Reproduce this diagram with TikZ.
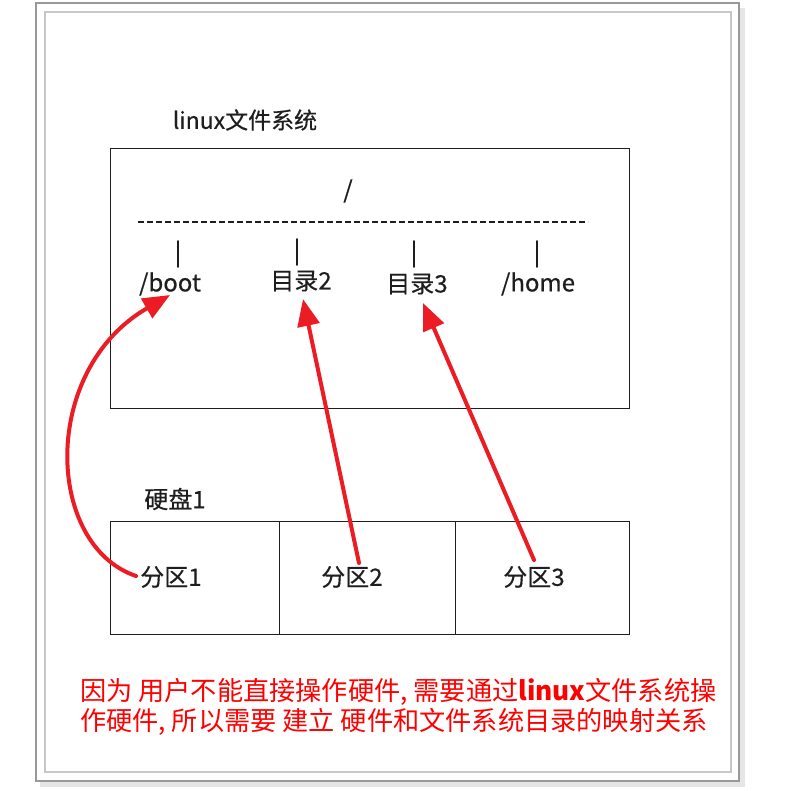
\documentclass[tikz,border=0pt]{standalone}
\usepackage{fontspec}
\setmainfont{Noto Sans CJK SC}
\newfontfamily\lblfont[FakeBold=0.4]{Noto Sans CJK SC}
\usetikzlibrary{arrows.meta}
\definecolor{arrowred}{RGB}{236,28,36}
\definecolor{txt}{RGB}{30,30,30}
\begin{document}
\begin{tikzpicture}[x=1pt,y=-1pt,
  lbl/.style={font=\lblfont\fontsize{24}{26}\selectfont, text=txt, inner sep=0pt},
  box/.style={draw=txt, line width=1.3pt},
  map/.style={draw=arrowred, line width=4pt, line cap=round, -{Triangle[length=27pt,width=22pt]}},
  note/.style={font=\fontsize{26.2}{30}\selectfont, text=red, anchor=west, inner sep=0pt}]
\useasboundingbox (0,0) rectangle (792,791);
% frame with shadow
\fill[black!10] (40,8) rectangle (745,787);
\fill[white, draw=black!40, line width=1.2pt] (36,3) rectangle (739,781);
\draw[black!22, line width=1.2pt] (45,12) rectangle (731,772);
% file system
\node[lbl, font=\lblfont\fontsize{23}{25}\selectfont] (fstitle) at (245,120) {linux文件系统};
\node[box, minimum width=519pt, minimum height=260pt, anchor=north west, inner sep=0pt] (fs) at (110,148) {};
\node[lbl] (root) at (348,191) {/};
\coordinate (dl) at (138,222);
\coordinate (dr) at (588,222);
\draw[txt, line width=1.5pt, dash pattern=on 6pt off 3pt] (dl) -- (dr);
\node[lbl] (p1) at (178,254) {|};
\node[lbl] (p2) at (297,252) {|};
\node[lbl] (p3) at (414,254) {|};
\node[lbl] (p4) at (537,254) {|};
\node[lbl] (boot) at (170,284) {/boot};
\node[lbl] (d2) at (301,281) {目录2};
\node[lbl] (d3) at (417,284) {目录3};
\node[lbl] (home) at (538,284) {/home};
% disk
\node[lbl] (disk) at (175,499) {硬盘1};
\node[box, minimum width=169pt, minimum height=113pt, anchor=north west, inner sep=0pt] (q1) at (110,521) {};
\node[box, minimum width=176pt, minimum height=113pt, anchor=north west, inner sep=0pt] (q2) at (279,521) {};
\node[box, minimum width=174pt, minimum height=113pt, anchor=north west, inner sep=0pt] (q3) at (455,521) {};
\node[lbl] (s1) at (171,577) {分区1};
\node[lbl] (s2) at (352,577) {分区2};
\node[lbl] (s3) at (534,577) {分区3};
% mapping arrows
\coordinate (a1) at (136,576);
\coordinate (b1) at (170,295);
\coordinate (a2) at (359,563);
\coordinate (b2) at (303,299);
\coordinate (a3) at (534,560);
\coordinate (b3) at (423,303);
\draw[map] (a1) .. controls (45,545) and (40,370) .. (b1);
\draw[map] (a2) -- (b2);
\draw[map] (a3) -- (b3);
% note
\node[note] (n1) at (80,692) {因为 用户不能直接操作硬件, 需要通过\textbf{linux}文件系统操};
\node[note] (n2) at (80,722) {作硬件, 所以需要 建立 硬件和文件系统目录的映射关系};
\end{tikzpicture}
\end{document}
